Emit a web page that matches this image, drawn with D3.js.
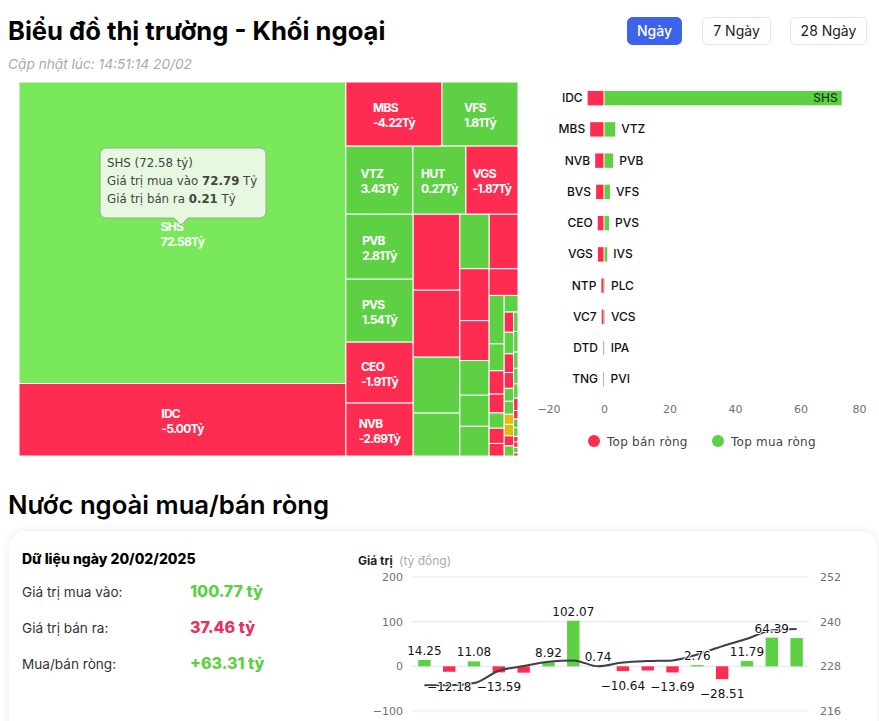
<!DOCTYPE html>
<html>
<head>
<meta charset="utf-8">
<script src="https://cdnjs.cloudflare.com/ajax/libs/d3/7.8.5/d3.min.js"></script>
<style>
body { margin: 0; background: #fff; font-family: Inter, sans-serif; }
svg { display: block; }
.axis text { font-family: "DejaVu Sans", sans-serif; font-size: 11px; fill: #6e7079; }
.axis path, .axis line { display: none; }
</style>
</head>
<body>
<svg id="page" width="879" height="721"></svg>
<script>
// treemap, area = traded value in ty (buy + sell), side: b = net buy, s = net sell, r = flat
const namesA = ["SHS", "IDC"], netA = ["72.58", "-5.00"], tradedA = [72.8, 17.5], sideA = ["top", "s"];
const namesB1 = ["MBS", "VFS"], netB1 = ["-4.22", "1.81"], tradedB1 = [4.55, 3.6], sideB1 = ["s", "b"];
const namesB2 = ["VTZ", "HUT", "VGS"], netB2 = ["3.43", "0.27", "-1.87"], tradedB2 = [3.37, 2.67, 2.62], sideB2 = ["b", "b", "s"];
const namesC = ["PVB", "PVS", "CEO", "NVB"], netC = ["2.81", "1.54", "-1.91", "-2.69"], tradedC = [3.23, 3.13, 3.03, 2.63], sideC = ["b", "b", "s", "s"];
const tradedD = [2.62, 2.31, 1.93, 1.48], sideD = ["s", "s", "b", "b"];
const tradedE1 = [1.18, 1.16], sideE1 = ["b", "s"];
const tradedF = [1.12, .86, .75, .67, .64], sideF = ["s", "s", "b", "b", "b"];
const tradedG1 = [.57], sideG1 = ["s"];
const tradedH = [.54, .30, .26, .21, .17, .17, .14], sideH = ["b", "b", "s", "s", "b", "s", "s"];
const tradedI1 = [.17], sideI1 = ["b"];
const tradedJ = [.14, .15, .13, .11, .09, .09, .07, .08, .07, .07], sideJ = ["s", "b", "s", "s", "b", "b", "r", "r", "s", "b"];
const tradedK = [.063, .067, .053, .05, .047, .04, .028, .028, .028, .018, .018, .018, .01], sideK = ["b", "b", "b", "b", "b", "s", "s", "b", "b", "s", "s", "b", "s"];

// top net sell / net buy bars
const sellNames = ["IDC", "MBS", "NVB", "BVS", "CEO", "VGS", "NTP", "VC7", "DTD", "TNG"];
const sellValues = [-5.0, -4.22, -2.69, -2.4, -1.91, -1.87, -0.8, -0.7, -0.3, -0.3];
const buyNames = ["SHS", "VTZ", "PVB", "VFS", "PVS", "IVS", "PLC", "VCS", "IPA", "PVI"];
const buyValues = [72.58, 3.43, 2.81, 1.81, 1.54, 1.0, 0.3, 0.3, 0.2, 0.15];
const barTicks = [-20, 0, 20, 40, 60, 80];

// foreign net flow, last 16 sessions
const flowDays = d3.range(16);
const flowValues = [14.25, -12.18, 11.08, -13.59, -14.2, 8.92, 102.07, 0.74, -10.64, -9.3, -13.69, 2.76, -28.51, 11.79, 64.39, 63.31];
const flowLabelled = [1, 1, 1, 1, 0, 1, 1, 1, 1, 0, 1, 1, 1, 1, 1, 0];
const indexValues = [222.9, 222.9, 223.5, 226.8, 228.1, 229.25, 229.6, 228, 229, 229.4, 229.6, 231.2, 233.4, 235.4, 237.7, 238];
const leftTicks = [-100, 0, 100, 200];
const rightTicks = [216, 228, 240, 252];

const RED = "#fe2c50", GREEN = "#5dd043", LIGHT = "#79e85b", YELLOW = "#e6b80c";
const sideColor = { top: LIGHT, b: GREEN, s: RED, r: YELLOW };

const svg = d3.select("#page");

function leaves(traded, side, names, net) {
    return traded.map(function (t, i) {
        return { value: t, side: side[i], name: names ? names[i] : null, net: net ? net[i] : null };
    });
}

function addText(x, y, str, size, weight, color, family) {
    return svg.append("text").attr("x", x).attr("y", y).text(str)
        .attr("font-size", size).attr("font-weight", weight).attr("fill", color)
        .attr("font-family", family || "Inter, sans-serif");
}

// headers
addText(8, 40, "Biểu đồ thị trường - Khối ngoại", 25.6, 700, "#000");
addText(8, 69, "Cập nhật lúc: 14:51:14 20/02", 13.7, 400, "#a9a9a9").attr("font-style", "italic");
addText(8, 514, "Nước ngoài mua/bán ròng", 25.7, 600, "#000");

const buttons = [["Ngày", 627, 55, true], ["7 Ngày", 702, 69, false], ["28 Ngày", 790, 77, false]];
buttons.forEach(function (b) {
    svg.append("rect").attr("x", b[1] + .5).attr("y", 17.5).attr("width", b[2] - 1).attr("height", 27).attr("rx", 5)
        .attr("fill", b[3] ? "#3d63ea" : "#fff").attr("stroke", b[3] ? "#3d63ea" : "#e4e4e7");
    addText(b[1] + b[2] / 2, 36, b[0], 14, b[3] ? 500 : 400, b[3] ? "#fff" : "#222").attr("text-anchor", "middle");
});

// treemap
const tree = {
    children: [
        { children: leaves(tradedA, sideA, namesA, netA) },
        { children: [
            { children: leaves(tradedB1, sideB1, namesB1, netB1) },
            { children: leaves(tradedB2, sideB2, namesB2, netB2) },
            { children: [
                { children: leaves(tradedC, sideC, namesC, netC) },
                { children: leaves(tradedD, sideD) },
                { children: [
                    { children: leaves(tradedE1, sideE1) },
                    { children: [
                        { children: leaves(tradedF, sideF) },
                        { children: [
                            leaves(tradedG1, sideG1)[0],
                            { children: [
                                { children: leaves(tradedH, sideH) },
                                { children: [
                                    leaves(tradedI1, sideI1)[0],
                                    { children: [
                                        { children: leaves(tradedJ, sideJ) },
                                        { children: leaves(tradedK, sideK) }
                                    ] }
                                ] }
                            ] }
                        ] }
                    ] }
                ] }
            ] }
        ] }
    ]
};

const root = d3.hierarchy(tree).sum(function (d) { return d.children ? 0 : d.value; });
d3.treemap().tile(d3.treemapSliceDice).size([499, 374])(root);

const map = svg.append("g").attr("transform", "translate(19,82)");
map.selectAll("rect").data(root.leaves()).enter().append("rect")
    .attr("x", function (d) { return d.x0; })
    .attr("y", function (d) { return d.y0; })
    .attr("width", function (d) { return d.x1 - d.x0; })
    .attr("height", function (d) { return d.y1 - d.y0; })
    .attr("fill", function (d) { return sideColor[d.data.side]; })
    .attr("stroke", "#fff")
    .attr("stroke-width", 1);

root.leaves().filter(function (d) { return d.data.name; }).forEach(function (d) {
    const label = map.append("text")
        .attr("font-size", 12).attr("font-weight", 700).attr("fill", "#fff")
        .attr("letter-spacing", -0.7)
        .attr("transform", "translate(" + ((d.x0 + d.x1) / 2) + "," + ((d.y0 + d.y1) / 2) + ")");
    label.append("tspan").attr("x", 0).attr("y", -2).text(d.data.name);
    const second = label.append("tspan").attr("x", 0).attr("y", 13).text(d.data.net + "Tỷ");
    const w = second.node().getComputedTextLength();
    label.selectAll("tspan").attr("x", -w / 2);
});

// tooltip on SHS
const tip = svg.append("g");
tip.append("path")
    .attr("d", "M106,148H260a6,6 0 0 1 6,6V212a6,6 0 0 1 -6,6H188L181,225L174,218H106a6,6 0 0 1 -6,-6V154a6,6 0 0 1 6,-6Z")
    .attr("fill", "#e6f9e0").attr("stroke", "#9aa79a");
const tipLines = [["SHS (72.58 tỷ)"], ["Giá trị mua vào ", "72.79", " Tỷ"], ["Giá trị bán ra ", "0.21", " Tỷ"]];
tipLines.forEach(function (line, i) {
    const t = addText(107, 167 + i * 18, "", 11.8, 400, "#444", "'DejaVu Sans', sans-serif");
    line.forEach(function (part, j) {
        t.append("tspan").text(part).attr("font-weight", j == 1 ? 700 : 400);
    });
});

// top buy/sell bars
const xBar = d3.scaleLinear().domain([-20, 80]).range([538.5, 866]);
const yBar = d3.scaleBand().domain(d3.range(10)).range([82.5, 395]).paddingInner(0.54).paddingOuter(0.27);

svg.append("g").selectAll("rect").data(sellValues).enter().append("rect")
    .attr("x", function (d) { return xBar(d); })
    .attr("y", function (d, i) { return yBar(i); })
    .attr("width", function (d) { return xBar(0) - xBar(d) - .5; })
    .attr("height", yBar.bandwidth())
    .attr("fill", RED);

svg.append("g").selectAll("rect").data(buyValues).enter().append("rect")
    .attr("x", xBar(0) + .5)
    .attr("y", function (d, i) { return yBar(i); })
    .attr("width", function (d) { return xBar(d) - xBar(0) - .5; })
    .attr("height", yBar.bandwidth())
    .attr("fill", GREEN);

sellNames.forEach(function (n, i) {
    addText(xBar(sellValues[i]) - 5, yBar(i) + yBar.bandwidth() / 2 + 4, n, 12, 500, "#111").attr("text-anchor", "end");
});
buyNames.forEach(function (n, i) {
    if (i == 0) {
        addText(xBar(buyValues[i]) - 4, yBar(i) + yBar.bandwidth() / 2 + 4, n, 12, 500, "#1d3b14").attr("text-anchor", "end");
    } else {
        addText(xBar(buyValues[i]) + 6, yBar(i) + yBar.bandwidth() / 2 + 4, n, 12, 500, "#111");
    }
});

const barAxis = svg.append("g").attr("class", "axis").attr("transform", "translate(0,402)")
    .call(d3.axisBottom(xBar).tickValues(barTicks).tickSize(0).tickFormat(d3.format("d")));
// end labels are pushed inside the plot
barAxis.selectAll("text").attr("dx", function (d) { return d == -20 ? 10 : d == 80 ? -7 : 0; });

// legend
svg.append("circle").attr("cx", 594).attr("cy", 441).attr("r", 6).attr("fill", RED);
addText(607, 446, "Top bán ròng", 12, 500, "#444", "'DejaVu Sans', sans-serif").attr("letter-spacing", 0.25);
svg.append("circle").attr("cx", 718).attr("cy", 441).attr("r", 6).attr("fill", GREEN);
addText(731, 446, "Top mua ròng", 12, 500, "#444", "'DejaVu Sans', sans-serif").attr("letter-spacing", 0.25);

// card
svg.append("rect").attr("x", 9).attr("y", 531).attr("width", 868).attr("height", 240).attr("rx", 16)
    .attr("fill", "#fff").style("filter", "drop-shadow(0 0 4px rgba(40,60,90,.10))");

addText(22, 564, "Dữ liệu ngày 20/02/2025", 14, 800, "#000");
const statLabels = ["Giá trị mua vào:", "Giá trị bán ra:", "Mua/bán ròng:"];
const statValues = ["100.77 tỷ", "37.46 tỷ", "+63.31 tỷ"];
const statColors = [GREEN, "#e8305a", GREEN];
statLabels.forEach(function (l, i) {
    addText(22, 597 + i * 36, l, 13.6, 400, "#333");
    addText(190, 597 + i * 36, statValues[i], 16, 800, statColors[i]);
});

// combo chart
const xFlow = d3.scaleBand().domain(flowDays).range([412, 809]).paddingInner(0.5).paddingOuter(0.25);
const yLeft = d3.scaleLinear().domain([-100, 200]).range([711, 577]);
const yRight = d3.scaleLinear().domain([216, 252]).range([711, 577]);

addText(358, 565, "Giá trị", 12, 700, "#222");
addText(399, 565, "(tỷ đồng)", 12, 400, "#aaa");

svg.append("g").selectAll("line").data(leftTicks).enter().append("line")
    .attr("x1", 412).attr("x2", 809)
    .attr("y1", function (d) { return yLeft(d); })
    .attr("y2", function (d) { return yLeft(d); })
    .attr("stroke", "#e0e6f1");

svg.append("g").attr("class", "axis").attr("transform", "translate(406,0)")
    .call(d3.axisLeft(yLeft).tickValues(leftTicks).tickSize(0).tickFormat(d3.format("d")));
svg.append("g").attr("class", "axis").attr("transform", "translate(817,0)")
    .call(d3.axisRight(yRight).tickValues(rightTicks).tickSize(0));

svg.append("g").selectAll("rect").data(flowValues).enter().append("rect")
    .attr("x", function (d, i) { return xFlow(i); })
    .attr("y", function (d) { return yLeft(Math.max(d, 0)); })
    .attr("width", xFlow.bandwidth())
    .attr("height", function (d) { return Math.abs(yLeft(d) - yLeft(0)); })
    .attr("fill", function (d) { return d < 0 ? RED : GREEN; });

const line = d3.line()
    .x(function (d, i) { return xFlow(i) + xFlow.bandwidth() / 2; })
    .y(function (d) { return yRight(d); })
    .curve(d3.curveMonotoneX);
svg.append("path").attr("d", line(indexValues)).attr("fill", "none").attr("stroke", "#3b4048").attr("stroke-width", 2);

flowValues.forEach(function (v, i) {
    if (!flowLabelled[i]) return;
    addText(xFlow(i) + xFlow.bandwidth() / 2, v < 0 ? yLeft(v) + 19 : yLeft(v) - 5, d3.format(".2f")(v), 12, 500, "#111", "'DejaVu Sans', sans-serif")
        .attr("text-anchor", "middle")
        .attr("stroke", "#fff").attr("stroke-width", 2).attr("paint-order", "stroke");
});
</script>
</body>
</html>
